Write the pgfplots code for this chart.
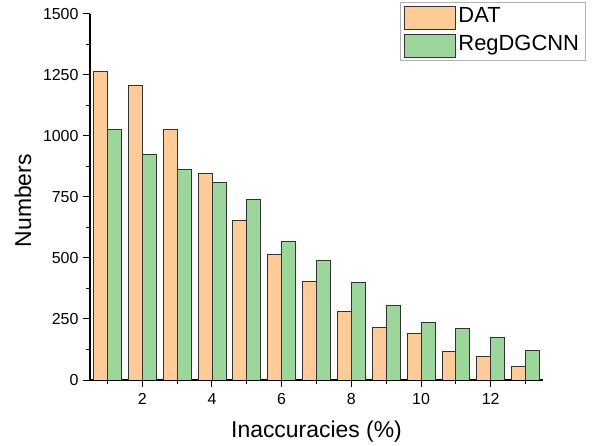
\documentclass[border=0pt]{standalone}
\usepackage{fontspec}
\setmainfont{Liberation Sans}
\usepackage{pgfplots}
\pgfplotsset{compat=1.18}
\definecolor{datc}{RGB}{255,204,153}
\definecolor{regc}{RGB}{157,214,155}
\begin{document}
\begin{tikzpicture}
\begin{axis}[
  name=ax,
  scale only axis, width=453bp, height=366bp,
  xmin=0.5, xmax=13.5, ymin=0, ymax=1500,
  axis lines=left, axis line style={-, line width=1.1bp, black},
  tick align=outside, tick style={black, line width=1bp},
  major tick length=7bp, minor tick length=4bp,
  xtick={2,4,...,12}, minor xtick={1,3,...,13},
  ytick={0,250,...,1500}, minor ytick={125,375,...,1375},
  /pgf/number format/assume math mode=true,
  /pgf/number format/set thousands separator={},
  ticklabel style={font=\fontsize{16}{19}\selectfont},
  xticklabel style={yshift=-3bp},
  yticklabel style={xshift=-1bp},
  xlabel={Inaccuracies (\%)}, ylabel={Numbers},
  label style={font=\fontsize{23}{27}\selectfont},
  x label style={at={(axis description cs:0.5,-0.142)}, anchor=center},
  y label style={at={(axis description cs:-0.148,0.49)}, anchor=center},
  legend style={at={(1.095,1.033)}, anchor=north east, draw=gray!60, line width=1bp,
    font=\fontsize{22}{26}\selectfont, inner xsep=4bp, inner ysep=2bp, row sep=2bp,
    nodes={text height=16bp, text depth=5bp, inner ysep=2.5bp, inner xsep=2.5bp}},
  legend cell align=left,
]
\addplot[ybar, bar width=0.4, bar shift=-0.2, fill=datc, draw=black!80, line width=0.8bp,
  legend image code/.code={\draw[fill=datc, draw=black!80, line width=0.8bp] (0bp,-11.5bp) rectangle (51bp,11.5bp);}]
  coordinates {(1,1265) (2,1206) (3,1026) (4,847) (5,656) (6,515) (7,403) (8,280) (9,215) (10,191) (11,117) (12,97) (13,56)};
\addplot[ybar, bar width=0.4, bar shift=0.2, fill=regc, draw=black!80, line width=0.8bp,
  legend image code/.code={\draw[fill=regc, draw=black!80, line width=0.8bp] (0bp,-11.5bp) rectangle (51bp,11.5bp);}]
  coordinates {(1,1029) (2,925) (3,864) (4,810) (5,739) (6,567) (7,491) (8,400) (9,304) (10,237) (11,212) (12,175) (13,120)};
\legend{DAT, RegDGCNN}
\end{axis}
\pgfresetboundingbox
\path (ax.south west) ++(-90bp,-66bp) rectangle ++(592bp,446bp);
\end{tikzpicture}
\end{document}
